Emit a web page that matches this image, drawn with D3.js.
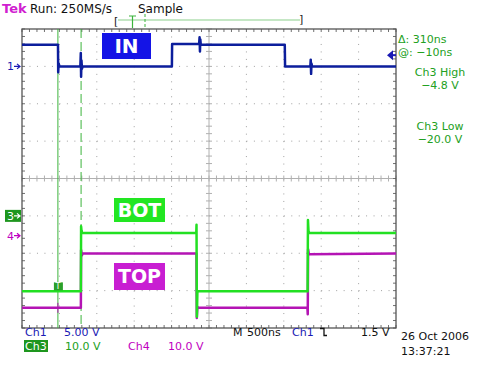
<!DOCTYPE html>
<html><head><meta charset="utf-8">
<script src="https://cdn.jsdelivr.net/npm/d3@7"></script>
<style>body{margin:0;background:#fff}svg{display:block}text{font-family:"DejaVu Sans",Verdana,sans-serif}</style>
</head><body>
<script>
// ---- data ----
const timeDomain = [-2500, 2500];          // ns, 500 ns/div, 10 div
const divDomain = [-4, 4];                  // vertical divisions
const ch1Scale = 5, ch1Offset = 3;          // V/div, ground position in div
const ch3Scale = 10, ch3Offset = -1;
const ch4Scale = 10, ch4Offset = -1.53;
// Ch1 (IN) [t ns, V]
const ch1T = [-2500,-2030,-2019,-2016,-2010,-2000,-1720,-1714,-1710,-1705,-1698,-1690,-496,-493,-132,-126,-121,-116,-110,1013,1017,1355,1360,1365,1370,1378,2500];
const ch1V = [2.9,2.9,2.9,-0.8,0.4,0,0,1.8,-1.4,0.8,-0.3,0,0,3.0,3.0,3.9,2.0,3.6,2.9,2.9,0,0,0.9,-1.0,0.4,0,0];
// Ch3 (BOT)
const ch3T = [-2500,-1713,-1710,-1704,-1696,-170,-167,-162,-155,1318,1323,1330,1340,2500];
const ch3V = [-20.2,-20.2,-2.8,-4.0,-4.6,-4.6,-2.4,-27,-20.2,-20.2,-1.1,-4.0,-4.6,-4.6];
// Ch4 (TOP)
const ch4T = [-2500,-1713,-1710,-1700,-1690,-168,-163,-155,-150,1316,1320,1325,1335,2500];
const ch4V = [-19.3,-19.3,-3.8,-5.3,-4.8,-4.8,-22,-19.0,-19.3,-19.3,-21,-3.6,-5.0,-4.8];
const cursor1 = -2020, cursorDelta = 310;
const trigLevel = 1.5;
const rightTexts = [["Δ: 310ns",43,"start",398],["@: −10ns",56,"start",398],["Ch3 High",76,"middle",440],["−4.8 V",89,"middle",440],["Ch3 Low",130,"middle",440],["−20.0 V",143,"middle",440]];

const W = 480, H = 369;
const svg = d3.select("body").append("svg").attr("width", W).attr("height", H);
const x = d3.scaleLinear().domain(timeDomain).range([22, 396]);
const y = d3.scaleLinear().domain(divDomain).range([328, 29]);
const divW = (x(500) - x(0)), divH = y(0) - y(1);

// ---- graticule ----
const g = svg.append("g");
const gridCol = "#a0a0a0";
d3.range(-4, 5).forEach(k => {
  if (k === 0) return;
  g.append("line").attr("x1", x(k*500)).attr("x2", x(k*500)).attr("y1", y(4)).attr("y2", y(-4))
    .attr("stroke", gridCol).attr("stroke-width", 1).attr("stroke-dasharray", "1," + (divH/5 - 1));
});
d3.range(-3, 4).forEach(k => {
  if (k === 0) return;
  g.append("line").attr("x1", x(-2500)).attr("x2", x(2500)).attr("y1", y(k)).attr("y2", y(k))
    .attr("stroke", gridCol).attr("stroke-width", 1).attr("stroke-dasharray", "1," + (divW/5 - 1));
});
// center crosshair
g.append("line").attr("x1", x(0)).attr("x2", x(0)).attr("y1", y(4)).attr("y2", y(-4)).attr("stroke", "#b0b0b0");
g.append("line").attr("x1", x(-2500)).attr("x2", x(2500)).attr("y1", y(0)).attr("y2", y(0)).attr("stroke", "#b0b0b0");
d3.range(-25, 26).forEach(i => {
  const xx = x(i*100);
  g.append("line").attr("x1", xx).attr("x2", xx).attr("y1", y(0)-3).attr("y2", y(0)+3).attr("stroke", "#b0b0b0");
  g.append("line").attr("x1", xx).attr("x2", xx).attr("y1", y(4)).attr("y2", y(4)+3).attr("stroke", "#707070");
  g.append("line").attr("x1", xx).attr("x2", xx).attr("y1", y(-4)).attr("y2", y(-4)-3).attr("stroke", "#707070");
});
d3.range(-20, 21).forEach(i => {
  const yy = y(i/5);
  g.append("line").attr("x1", x(0)-3).attr("x2", x(0)+3).attr("y1", yy).attr("y2", yy).attr("stroke", "#b0b0b0");
  g.append("line").attr("x1", x(-2500)).attr("x2", x(-2500)+3).attr("y1", yy).attr("y2", yy).attr("stroke", "#707070");
  g.append("line").attr("x1", x(2500)).attr("x2", x(2500)-3).attr("y1", yy).attr("y2", yy).attr("stroke", "#707070");
});
g.append("rect").attr("x", x(-2500)).attr("y", y(4)).attr("width", x(2500)-x(-2500)).attr("height", y(-4)-y(4))
  .attr("fill", "none").attr("stroke", "#555").attr("stroke-width", 1.3);

// ---- cursors ----
const cGreen = "#3cb43c";
g.append("line").attr("x1", x(cursor1)).attr("x2", x(cursor1)).attr("y1", y(4)).attr("y2", y(-4)).attr("stroke", cGreen).attr("stroke-width", 1);
g.append("line").attr("x1", x(cursor1+cursorDelta)).attr("x2", x(cursor1+cursorDelta)).attr("y1", y(4)).attr("y2", y(-4))
  .attr("stroke", cGreen).attr("stroke-width", 1).attr("stroke-dasharray", "9,4");

// ---- traces ----
function trace(T, V, scale, off, col, w) {
  const pts = T.map((t, i) => [x(t), y(V[i]/scale + off)]);
  svg.append("path").attr("d", d3.line()(pts)).attr("fill", "none").attr("stroke", col).attr("stroke-width", w).attr("stroke-linejoin", "round");
}
trace(ch4T, ch4V, ch4Scale, ch4Offset, "#b414b4", 2.5);
trace(ch3T, ch3V, ch3Scale, ch3Offset, "#22e022", 2.5);
trace(ch1T, ch1V, ch1Scale, ch1Offset, "#0c1e9c", 2.5);

// markers on cursor
svg.append("rect").attr("x", x(cursor1)-4).attr("y", y((-20.2)/ch3Scale+ch3Offset)-9).attr("width", 9).attr("height", 8).attr("fill", "#2aa02a");
svg.append("text").attr("x", x(cursor1)).attr("y", y((-20.2)/ch3Scale+ch3Offset)-2).attr("text-anchor","middle").attr("font-size", 8).attr("fill", "#fff").text("T");
svg.append("path").attr("d", `M${x(cursor1)-4},${y(-19.3/ch4Scale+ch4Offset)}h8M${x(cursor1)},${y(-19.3/ch4Scale+ch4Offset)-5}v10`).attr("stroke", "#b414b4").attr("stroke-width", 1);

// ---- labels in plot ----
function box(x0, y0, w, h, fill, label, fs) {
  svg.append("rect").attr("x", x0).attr("y", y0).attr("width", w).attr("height", h).attr("fill", fill);
  svg.append("text").attr("x", x0 + w/2).attr("y", y0 + h/2 + fs*0.36).attr("text-anchor", "middle")
    .attr("font-size", fs).attr("font-weight", "bold").attr("fill", "#fff").text(label);
}
box(102, 33, 49, 26, "#1414e6", "IN", 20);
box(114, 198, 51, 24, "#22e622", "BOT", 19);
box(114, 263, 51, 27, "#c81ed2", "TOP", 19);

// ---- left channel markers ----
function marker(yy, label, col, boxed) {
  if (boxed) {
    svg.append("rect").attr("x", 5).attr("y", yy-6).attr("width", 16).attr("height", 12).attr("fill", "#1e961e");
  }
  svg.append("text").attr("x", 7).attr("y", yy+4).attr("font-size", 11).attr("fill", boxed ? "#fff" : col).text(label);
  svg.append("path").attr("d", `M14,${yy}h6M17,${yy-2.5}l3,2.5l-3,2.5`).attr("stroke", boxed ? "#fff" : col).attr("fill", "none").attr("stroke-width", 1.2);
}
marker(y(ch1Offset), "1", "#1a1ab4", false);
marker(y(ch3Offset), "3", "#fff", true);
marker(y(ch4Offset), "4", "#c000c0", false);

// trigger level arrow on right
const ty = y(trigLevel/ch1Scale + ch1Offset);
svg.append("path").attr("d", `M387,${ty}l6,-5v10z`).attr("fill", "#1a1ab4");
svg.append("line").attr("x1", 392).attr("x2", 396).attr("y1", ty).attr("y2", ty).attr("stroke", "#1a1ab4").attr("stroke-width", 2);

// ---- top bar ----
svg.append("text").attr("x", 2).attr("y", 13).attr("font-size", 13).attr("font-weight", "bold").attr("fill", "#d020d0").text("Tek");
svg.append("text").attr("x", 30).attr("y", 13).attr("font-size", 12).attr("fill", "#111").text("Run: 250MS/s");
svg.append("text").attr("x", 138).attr("y", 13).attr("font-size", 12).attr("fill", "#111").text("Sample");
svg.append("text").attr("x", 114).attr("y", 25).attr("font-size", 11).attr("fill", "#222").text("[");
svg.append("text").attr("x", 299).attr("y", 23).attr("font-size", 11).attr("fill", "#222").text("]");
svg.append("line").attr("x1", 118).attr("x2", 300).attr("y1", 20).attr("y2", 20).attr("stroke", "#8cd08c").attr("stroke-width", 1.2);
svg.append("path").attr("d", "M129,16h7M132.5,16v12").attr("stroke", "#3cb43c").attr("stroke-width", 1.2).attr("fill","none");
svg.append("line").attr("x1", 145).attr("x2", 145).attr("y1", 14).attr("y2", 29).attr("stroke", "#3cb43c").attr("stroke-dasharray", "3,2");

// ---- right readouts ----
rightTexts.forEach(([t, yy, anc, xx]) => {
  svg.append("text").attr("x", xx).attr("y", yy).attr("text-anchor", anc).attr("font-size", 11).attr("fill", "#22a022").text(t);
});

// ---- bottom readouts ----
const bt = (xx, yy, t, col) => svg.append("text").attr("x", xx).attr("y", yy).attr("font-size", 11).attr("fill", col).text(t);
bt(25, 336, "Ch1", "#1a1ab4");
bt(64, 336, "5.00 V", "#1a1ab4");
svg.append("rect").attr("x", 24).attr("y", 340).attr("width", 24).attr("height", 12).attr("fill", "#1e961e");
bt(25, 350, "Ch3", "#fff");
bt(65, 350, "10.0 V", "#22a022");
bt(128, 350, "Ch4", "#c000c0");
bt(168, 350, "10.0 V", "#c000c0");
bt(233, 336, "M", "#111");
bt(247, 336, "500ns", "#111");
bt(292, 336, "Ch1", "#1a1ab4");
svg.append("path").attr("d", "M320,328.5h4v7h3").attr("stroke", "#111").attr("fill", "none").attr("stroke-width", 1.3);
bt(361, 336, "1.5 V", "#111");
bt(401, 340, "26 Oct 2006", "#111");
bt(401, 355, "13:37:21", "#111");
</script>
</body></html>
